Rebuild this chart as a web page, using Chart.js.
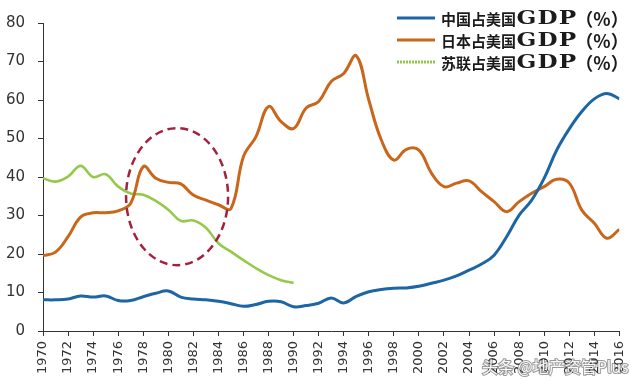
<!DOCTYPE html>
<html>
<head>
<meta charset="utf-8">
<script src="https://cdn.jsdelivr.net/npm/chart.js@4/dist/chart.umd.min.js"></script>
<style>
  html, body { margin: 0; padding: 0; background: #fff; }
  #wrap { width: 640px; height: 392px; position: relative; }
</style>
</head>
<body>
<div id="wrap"><canvas id="c" width="640" height="392"></canvas></div>
<script>
// ---- data ----
const years = [1970,1971,1972,1973,1974,1975,1976,1977,1978,1979,
               1980,1981,1982,1983,1984,1985,1986,1987,1988,1989,
               1990,1991,1992,1993,1994,1995,1996,1997,1998,1999,
               2000,2001,2002,2003,2004,2005,2006,2007,2008,2009,
               2010,2011,2012,2013,2014,2015,2016];

const chinaShare = [8.1, 8.1, 8.3, 9.1, 8.8, 9.1, 7.9, 7.9, 8.9, 9.8,
                    10.4, 8.8, 8.3, 8.1, 7.7, 7.1, 6.4, 6.9, 7.7, 7.6,
                    6.3, 6.6, 7.2, 8.6, 7.3, 9.0, 10.2, 10.8, 11.1, 11.2,
                    11.6, 12.4, 13.2, 14.3, 15.8, 17.4, 19.7, 24.5, 30.1, 34.0,
                    39.7, 47.0, 52.5, 57.0, 60.3, 61.7, 60.3];

const japanShare = [19.6, 20.5, 24.5, 29.6, 30.7, 30.7, 31.2, 33.2, 42.7, 39.7,
                    38.6, 38.2, 35.3, 34.0, 32.8, 31.8, 45.3, 50.5, 58.3, 54.4,
                    52.6, 57.9, 59.6, 64.8, 66.9, 71.5, 60.0, 49.6, 44.4, 47.2,
                    47.0, 41.0, 37.5, 38.4, 39.0, 36.2, 33.6, 31.0, 33.6, 35.8,
                    37.5, 39.4, 38.4, 31.4, 28.0, 24.1, 26.4];

const ussrYears = [1970,1971,1972,1973,1974,1975,1976,1977,1978,1979,
                   1980,1981,1982,1983,1984,1985,1986,1987,1988,1989,1990];
const ussrShare = [39.7, 38.8, 40.1, 42.9, 40.0, 40.7, 37.5, 35.7, 35.4, 33.8,
                   31.5, 28.6, 28.7, 26.8, 22.8, 20.6, 18.4, 16.3, 14.5, 13.2, 12.5];

const seriesLabels = ['中国占美国GDP（%）', '日本占美国GDP（%）', '苏联占美国GDP（%）'];
const yTicks = { min: 0, max: 80, step: 10 };
const xTicks = { min: 1970, max: 2016, step: 2 };
const watermark = '头条 @地产资管Plus';

// ---- helpers ----
const toPoints = (xs, ys) => xs.map((x, i) => ({ x: x, y: ys[i] }));

const COLORS = { china: '#1d66a3', japan: '#c9661c', ussr: '#96c94a' };

// highlight ellipse (annotation, in data units)
const ellipseSpec = { cx: 1980.7, cy: 34.9, rx: 4.07, ry: 17.8 };

const ellipsePlugin = {
  id: 'ellipse',
  afterDatasetsDraw(chart) {
    const { ctx, scales: { x, y } } = chart;
    const cx = x.getPixelForValue(ellipseSpec.cx);
    const cy = y.getPixelForValue(ellipseSpec.cy);
    const rx = Math.abs(x.getPixelForValue(ellipseSpec.cx + ellipseSpec.rx) - cx);
    const ry = Math.abs(y.getPixelForValue(ellipseSpec.cy + ellipseSpec.ry) - cy);
    ctx.save();
    ctx.beginPath();
    ctx.ellipse(cx, cy, rx, ry, 0, 0, Math.PI * 2);
    ctx.setLineDash([8, 5]);
    ctx.lineWidth = 2.5;
    ctx.strokeStyle = '#a4213d';
    ctx.stroke();
    ctx.restore();
  }
};

const legendPlugin = {
  id: 'customLegend',
  afterDraw(chart) {
    const { ctx } = chart;
    const rowsY = [18, 40, 62];
    chart.data.datasets.forEach((ds, i) => {
      const yy = rowsY[i];
      ctx.save();
      ctx.beginPath();
      ctx.moveTo(397, yy);
      ctx.lineTo(435, yy);
      ctx.lineWidth = 3;
      ctx.strokeStyle = ds.borderColor;
      if (i === 2) ctx.setLineDash([2, 1]);
      ctx.stroke();
      ctx.setLineDash([]);
      const m = ds.label.match(/^(.*?)(GDP)(.*)$/);
      ctx.fillStyle = '#1b1b1b';
      ctx.textBaseline = 'middle';
      ctx.textAlign = 'left';
      // CJK prefix
      ctx.letterSpacing = '0px';
      ctx.font = "bold 15px 'Noto Sans CJK SC'";
      ctx.fillText(m[1], 441, yy + 1);
      const x1 = 441 + ctx.measureText(m[1]).width + 0.5;
      // GDP, widened to match
      ctx.font = "bold 19px 'DejaVu Serif'";
      ctx.letterSpacing = '1px';
      const w0 = ctx.measureText(m[2]).width;
      const target = 61;
      ctx.save();
      ctx.translate(x1, yy + 1);
      ctx.scale(target / w0, 1);
      ctx.fillText(m[2], 0, 0);
      ctx.restore();
      // suffix （%）
      ctx.font = "bold 18px 'Noto Sans CJK SC'";
      ctx.letterSpacing = '0px';
      ctx.textAlign = 'center';
      ctx.fillText(m[3], 602, yy + 1);
      ctx.restore();
    });
    // watermark
    ctx.save();
    ctx.font = "16px 'Noto Sans CJK SC'";
    ctx.textBaseline = 'middle';
    ctx.textAlign = 'left';
    ctx.lineWidth = 2;
    ctx.strokeStyle = 'rgba(70,70,70,0.55)';
    ctx.strokeText(watermark, 482, 367);
    ctx.fillStyle = 'rgba(255,255,255,0.95)';
    ctx.fillText(watermark, 482, 367);
    ctx.restore();
  }
};

new Chart(document.getElementById('c'), {
  type: 'line',
  data: {
    datasets: [
      { label: seriesLabels[0], data: toPoints(years, chinaShare), borderColor: COLORS.china,
        borderWidth: 3, pointRadius: 0, tension: 0.4, fill: false },
      { label: seriesLabels[1], data: toPoints(years, japanShare), borderColor: COLORS.japan,
        borderWidth: 3, pointRadius: 0, tension: 0.4, fill: false },
      { label: seriesLabels[2], data: toPoints(ussrYears, ussrShare), borderColor: COLORS.ussr,
        borderWidth: 2.6, pointRadius: 0, tension: 0.4, fill: false }
    ]
  },
  options: {
    responsive: false,
    devicePixelRatio: 1,
    animation: false,
    layout: { padding: { top: 23, right: 15, left: 0, bottom: 0 } },
    plugins: { legend: { display: false }, tooltip: { enabled: false }, title: { display: false } },
    scales: {
      x: {
        type: 'linear',
        min: xTicks.min, max: xTicks.max,
        afterFit(s) { s.height = 61; },
        afterBuildTicks(s) {
          const t = [];
          for (let v = xTicks.min; v <= xTicks.max; v += xTicks.step) t.push({ value: v });
          s.ticks = t;
        },
        ticks: {
          autoSkip: false, maxRotation: 90, minRotation: 90, padding: 5,
          color: '#333', font: { family: 'DejaVu Sans', size: 13 },
          callback: v => String(v)
        },
        grid: { display: true, drawOnChartArea: false, drawTicks: true, tickLength: 5, color: '#333' },
        border: { display: true, color: '#333', width: 1 }
      },
      y: {
        min: yTicks.min, max: yTicks.max,
        afterFit(s) { s.width = 43; },
        ticks: { stepSize: yTicks.step, padding: 13, color: '#333', font: { family: 'DejaVu Sans', size: 15 } },
        grid: { display: true, drawOnChartArea: false, drawTicks: true, tickLength: 5, color: '#333' },
        border: { display: true, color: '#333', width: 1 }
      }
    }
  },
  plugins: [ellipsePlugin, legendPlugin]
});
</script>
</body>
</html>
